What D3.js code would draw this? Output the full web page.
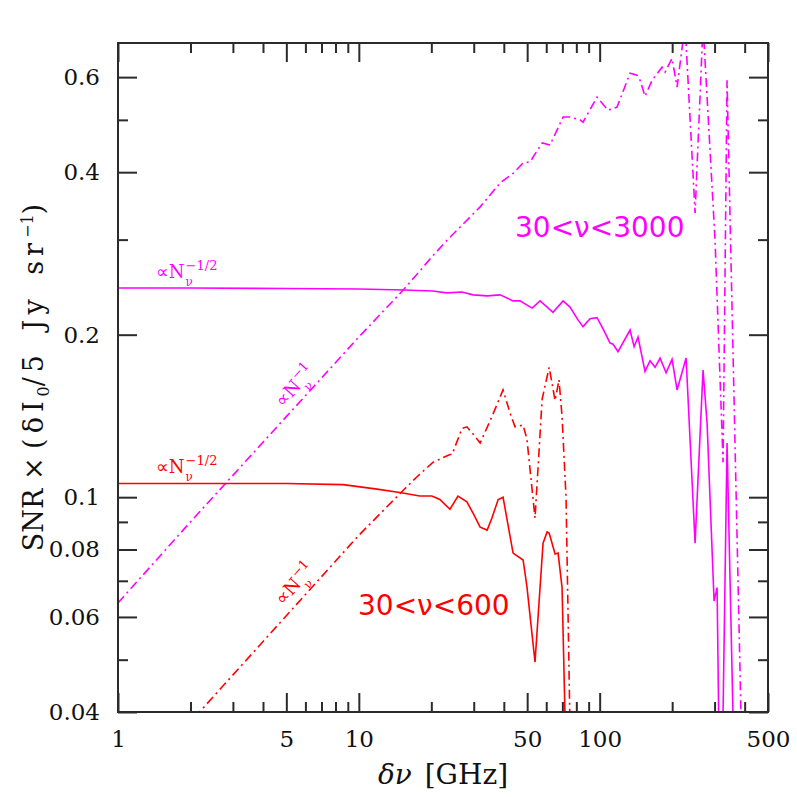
<!DOCTYPE html>
<html>
<head>
<meta charset="utf-8">
<script src="https://cdn.jsdelivr.net/npm/d3@7"></script>
<style>
  body { margin: 0; background: #fff; }
  svg { display: block; }
</style>
</head>
<body>
<svg id="chart"></svg>
<script>
const DIMENSION = {
	width: 797,
	height: 797,
	margin: { left: 118, right: 29, top: 43, bottom: 85 }
};
DIMENSION.trueWidth = DIMENSION.width - (DIMENSION.margin.left + DIMENSION.margin.right);
DIMENSION.trueHeight = DIMENSION.height - (DIMENSION.margin.top + DIMENSION.margin.bottom);

const MAGENTA = '#ff00ff';
const RED = '#ff0000';

// axis ticks
const xTicksMajor = [1, 5, 10, 50, 100, 500];
const xTicksMinor = [2, 3, 4, 6, 7, 8, 9, 20, 30, 40, 60, 70, 80, 90, 200, 300, 400];
const yTicksMajor = [0.04, 0.06, 0.08, 0.1, 0.2, 0.4, 0.6];
const yTicksMinor = [0.05, 0.07, 0.09, 0.3, 0.5];

// [delta nu (GHz), SNR x (dI0 / 5 Jy sr^-1)]
// 30 < nu < 3000, N^-1/2 (solid)
const wideHalf = [
	[1, 0.244], [2, 0.244], [5, 0.2435], [10, 0.243], [15.3, 0.242], [20.3, 0.241],
	[23.2, 0.239], [26.8, 0.240], [29.8, 0.237], [34.1, 0.236], [38.6, 0.237],
	[43.7, 0.231], [46.7, 0.231], [52.4, 0.224], [56.6, 0.231], [64.0, 0.220],
	[70.5, 0.231], [75.3, 0.225], [81.3, 0.213], [85.3, 0.207], [91.2, 0.214],
	[97.5, 0.215], [103.3, 0.205], [110.5, 0.193], [113.7, 0.192], [119.2, 0.186],
	[133.7, 0.204], [139.0, 0.190], [144.3, 0.198], [154.3, 0.171], [161.9, 0.179],
	[169.8, 0.174], [178.2, 0.181], [188.7, 0.170], [199.8, 0.180], [209.6, 0.158],
	[228.5, 0.181], [249, 0.0822], [268.7, 0.172], [279.3, 0.137], [298.6, 0.0642],
	[307.3, 0.068], [318, 0.02], [338, 0.126], [370, 0.02]
];
// 30 < nu < 3000, N^-1 (dash-dot)
const wideOne = [
	[1, 0.0637], [2, 0.090], [5, 0.141], [10, 0.198], [15.3, 0.242], [20.3, 0.280],
	[23.2, 0.299], [31.9, 0.345], [38.6, 0.382], [43.7, 0.398], [48.1, 0.416],
	[51.4, 0.418], [57.7, 0.453], [62.2, 0.449], [70.5, 0.506], [75.3, 0.506],
	[82.9, 0.500], [85.3, 0.495], [97.5, 0.551], [108.3, 0.521], [118.1, 0.528],
	[133.7, 0.610], [143.0, 0.605], [147.2, 0.592], [154.3, 0.553], [165.1, 0.592],
	[181.6, 0.626], [186.9, 0.613], [199.8, 0.650], [209.6, 0.575], [226.3, 0.75],
	[249, 0.336], [268.7, 0.75], [301.4, 0.299], [325.4, 0.116], [338, 0.592],
	[395, 0.025]
];
// 30 < nu < 600, N^-1/2 (solid)
const narrowHalf = [
	[1, 0.106], [5, 0.106], [8.6, 0.1055], [11.9, 0.1035], [14.8, 0.102],
	[17.9, 0.1005], [20.1, 0.1005], [21.7, 0.099], [23.9, 0.095], [25.8, 0.1005],
	[28.1, 0.098], [29.8, 0.0934], [31.9, 0.088], [34.1, 0.0869], [35.7, 0.0915],
	[37.9, 0.099], [39.7, 0.100], [43.7, 0.0788], [48.1, 0.0765], [49.9, 0.0682],
	[53.9, 0.0495], [58.2, 0.0822], [60.5, 0.0862], [61.7, 0.0858], [65.3, 0.0785],
	[67.2, 0.0788], [69.8, 0.068], [73.5, 0.025]
];
// 30 < nu < 600, N^-1 (dash-dot)
const narrowOne = [
	[1, 0.0272], [10, 0.085], [15.3, 0.103], [17.4, 0.109], [20.3, 0.116],
	[23.9, 0.120], [24.4, 0.120], [26.8, 0.134], [28.1, 0.135], [29.8, 0.131],
	[31.9, 0.126], [35.7, 0.141], [39.7, 0.158], [42.5, 0.143], [44.5, 0.135],
	[48.1, 0.136], [49.9, 0.128], [53.9, 0.0915], [57.7, 0.152], [61.7, 0.174],
	[65.3, 0.151], [67.8, 0.165], [69.8, 0.141], [72.5, 0.100], [76.5, 0.025]
];

const svg = d3.select('#chart')
	.attr('width', DIMENSION.width)
	.attr('height', DIMENSION.height);

const xScale = d3.scaleLog()
	.domain([1, 500])
	.range([DIMENSION.margin.left, DIMENSION.width - DIMENSION.margin.right]);
const yScale = d3.scaleLog()
	.domain([0.04, 0.694])
	.range([DIMENSION.height - DIMENSION.margin.bottom, DIMENSION.margin.top]);

const x0 = xScale.range()[0], x1 = xScale.range()[1];
const y0 = yScale.range()[0], y1 = yScale.range()[1];

svg.append('clipPath').attr('id', 'plot-clip')
	.append('rect')
	.attr('x', x0).attr('y', y1)
	.attr('width', x1 - x0).attr('height', y0 - y1);

// curves
const line = d3.line()
	.x(d => xScale(d[0]))
	.y(d => yScale(d[1]));

const curves = [
	{ data: wideHalf, color: MAGENTA, dash: null },
	{ data: wideOne, color: MAGENTA, dash: '9,4,2,4' },
	{ data: narrowHalf, color: RED, dash: null },
	{ data: narrowOne, color: RED, dash: '9,4,2,4' }
];
const curveGroup = svg.append('g').attr('clip-path', 'url(#plot-clip)');
for (let c of curves) {
	curveGroup.append('path')
		.datum(c.data)
		.attr('fill', 'none')
		.attr('stroke', c.color)
		.attr('stroke-width', 1.6)
		.attr('stroke-dasharray', c.dash)
		.attr('d', line);
}

// axes, ticks pointing inward
const AXIS_COLOR = '#2b2b2b';
const SERIF = '"DejaVu Serif", serif';
const styleAxis = (g) => {
	g.select('.domain').remove();
	g.selectAll('line').attr('stroke', AXIS_COLOR).attr('stroke-width', 2);
	g.selectAll('text').attr('fill', '#111').style('font-family', SERIF).style('font-size', '23px');
};
const noLabel = () => '';

svg.append('g').attr('transform', `translate(0,${y0})`)
	.call(d3.axisBottom(xScale).tickValues(xTicksMajor).tickSize(-19).tickPadding(19).tickFormat(d3.format('d')))
	.call(styleAxis);
svg.append('g').attr('transform', `translate(0,${y0})`)
	.call(d3.axisBottom(xScale).tickValues(xTicksMinor).tickSize(-10).tickFormat(noLabel))
	.call(styleAxis);
svg.append('g').attr('transform', `translate(0,${y1})`)
	.call(d3.axisTop(xScale).tickValues(xTicksMajor).tickSize(-19).tickFormat(noLabel))
	.call(styleAxis);
svg.append('g').attr('transform', `translate(0,${y1})`)
	.call(d3.axisTop(xScale).tickValues(xTicksMinor).tickSize(-10).tickFormat(noLabel))
	.call(styleAxis);

svg.append('g').attr('transform', `translate(${x0},0)`)
	.call(d3.axisLeft(yScale).tickValues(yTicksMajor).tickSize(-19).tickPadding(18).tickFormat(d => String(d)))
	.call(styleAxis);
svg.append('g').attr('transform', `translate(${x0},0)`)
	.call(d3.axisLeft(yScale).tickValues(yTicksMinor).tickSize(-10).tickFormat(noLabel))
	.call(styleAxis);
svg.append('g').attr('transform', `translate(${x1},0)`)
	.call(d3.axisRight(yScale).tickValues(yTicksMajor).tickSize(-19).tickFormat(noLabel))
	.call(styleAxis);
svg.append('g').attr('transform', `translate(${x1},0)`)
	.call(d3.axisRight(yScale).tickValues(yTicksMinor).tickSize(-10).tickFormat(noLabel))
	.call(styleAxis);

svg.append('rect')
	.attr('x', x0).attr('y', y1)
	.attr('width', x1 - x0).attr('height', y0 - y1)
	.attr('fill', 'none')
	.attr('stroke', AXIS_COLOR)
	.attr('stroke-width', 2);

// axis titles
const xTitle = svg.append('text')
	.attr('x', (x0 + x1) / 2)
	.attr('y', 784)
	.attr('text-anchor', 'middle')
	.style('font-family', SERIF)
	.style('font-size', '28px')
	.attr('fill', '#111');
xTitle.append('tspan').style('font-style', 'italic').text('δν');
xTitle.append('tspan').style('word-spacing', '4px').text(' [GHz]');

const yTitle = svg.append('text')
	.attr('transform', `translate(43,${(y0 + y1) / 2}) rotate(-90)`)
	.attr('text-anchor', 'middle')
	.style('font-family', SERIF)
	.style('font-size', '27px')
	.attr('fill', '#111');
yTitle.append('tspan').text('SNR × ');
yTitle.append('tspan').style('letter-spacing', '5px').text('(δI');
yTitle.append('tspan').attr('dy', 6).style('font-size', '16px').text('0');
yTitle.append('tspan').attr('dy', -6).style('letter-spacing', '5px').style('word-spacing', '6px').text('/5 Jy sr');
yTitle.append('tspan').attr('dy', -10).style('font-size', '16px').text('−1');
yTitle.append('tspan').attr('dy', 10).text(')');

// range labels
svg.append('text')
	.attr('x', 515).attr('y', 237)
	.style('font-family', '"DejaVu Sans", sans-serif')
	.style('font-size', '28px')
	.attr('fill', MAGENTA)
	.text('30<ν<3000');
svg.append('text')
	.attr('x', 358).attr('y', 615)
	.style('font-family', '"DejaVu Sans", sans-serif')
	.style('font-size', '28px')
	.attr('fill', RED)
	.text('30<ν<600');

// scaling labels: "∝N" with the nu subscript below the power
const powerLabel = (g, power, color) => {
	const main = g.append('text')
		.attr('x', 0).attr('y', 0)
		.style('font-family', SERIF)
		.style('font-size', '18px')
		.attr('fill', color);
	main.append('tspan').style('font-family', '"DejaVu Sans", sans-serif').text('∝');
	main.append('tspan').text('N');
	const w = main.node().getComputedTextLength();
	g.append('text')
		.attr('x', w + 1).attr('y', -8)
		.style('font-family', SERIF)
		.style('font-size', '13px')
		.attr('fill', color)
		.text(power);
	g.append('text')
		.attr('x', w + 1).attr('y', 8)
		.style('font-family', SERIF)
		.style('font-size', '12px')
		.attr('fill', color)
		.text('ν');
};

powerLabel(svg.append('g').attr('transform', 'translate(156,278)'), '−1/2', MAGENTA);
powerLabel(svg.append('g').attr('transform', 'translate(156,473)'), '−1/2', RED);

// angle of an N^-1 line (slope 1/2 in log-log)
const angle = Math.atan2(yScale(0.1 * Math.sqrt(10)) - yScale(0.1), xScale(10) - xScale(1)) * 180 / Math.PI;
powerLabel(svg.append('g').attr('transform', `translate(283,408) rotate(${angle})`), '−1', MAGENTA);
powerLabel(svg.append('g').attr('transform', `translate(283,606) rotate(${angle})`), '−1', RED);
</script>
</body>
</html>
